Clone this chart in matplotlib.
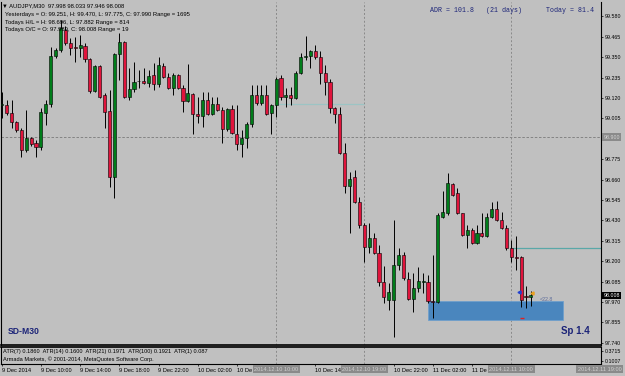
import matplotlib
matplotlib.use("Agg")
import matplotlib.pyplot as plt
import matplotlib.transforms as mtransforms
from matplotlib.patches import Rectangle

W, H = 625, 376
plt.rcParams["font.family"] = ["Liberation Sans", "DejaVu Sans"]

# AUDJPY M30, 9 Dec 06:00 .. 11 Dec 12:00
opens = [99.080, 99.080, 99.035, 98.985, 98.940, 98.827, 98.895, 98.866, 98.844, 99.035,
         99.086, 99.357, 99.390, 99.503, 99.430, 99.410, 99.402, 99.413, 99.340, 99.159,
         99.300, 99.137, 99.047, 98.675, 99.368, 99.435, 99.126, 99.171, 99.213, 99.216,
         99.204, 99.249, 99.199, 99.300, 99.238, 99.176, 99.249, 99.176, 99.103, 99.142,
         99.030, 99.018, 99.109, 99.030, 99.086, 99.052, 98.945, 99.058, 98.917, 98.861,
         98.895, 98.973, 99.137, 99.092, 99.137, 99.035, 99.080, 99.233, 99.126, 99.137,
         99.120, 99.261, 99.351, 99.357, 99.385, 99.351, 99.261, 99.210, 99.064, 99.030,
         98.810, 98.624, 98.675, 98.534, 98.404, 98.280, 98.331, 98.247, 98.083, 97.982,
         97.982, 98.179, 98.235, 98.100, 97.989, 98.049, 98.083, 98.083, 97.976, 97.970,
         98.449, 98.472, 98.635, 98.585, 98.472, 98.348, 98.376, 98.303, 98.359, 98.342,
         98.449, 98.495, 98.433, 98.387, 98.275, 98.224, 98.224, 98.004, 97.998]
highs = [99.154, 99.109, 99.109, 98.990, 98.951, 99.052, 98.900, 98.883, 99.064, 99.109,
         99.407, 99.402, 99.559, 99.526, 99.458, 99.464, 99.475, 99.430, 99.345, 99.306,
         99.306, 99.148, 99.165, 99.373, 99.486, 99.441, 99.289, 99.323, 99.278, 99.289,
         99.278, 99.317, 99.351, 99.317, 99.261, 99.261, 99.255, 99.193, 99.311, 99.148,
         99.126, 99.154, 99.154, 99.126, 99.126, 99.069, 99.064, 99.080, 99.080, 98.940,
         98.985, 99.193, 99.193, 99.193, 99.193, 99.086, 99.238, 99.249, 99.176, 99.182,
         99.272, 99.373, 99.470, 99.390, 99.418, 99.385, 99.306, 99.227, 99.069, 99.069,
         98.866, 98.703, 98.714, 98.562, 98.416, 98.416, 98.359, 98.292, 98.173, 98.078,
         98.433, 98.275, 98.252, 98.140, 98.134, 98.168, 98.134, 98.123, 98.235, 98.472,
         98.596, 98.696, 98.641, 98.613, 98.472, 98.404, 98.387, 98.404, 98.472, 98.472,
         98.534, 98.540, 98.478, 98.404, 98.320, 98.342, 98.230, 98.061, 98.033]
lows = [99.007, 99.024, 98.951, 98.928, 98.788, 98.816, 98.849, 98.788, 98.827, 98.968,
        99.069, 99.345, 99.379, 99.418, 99.362, 99.323, 99.351, 99.323, 99.148, 99.154,
        99.120, 98.951, 98.618, 98.557, 99.221, 99.120, 99.109, 99.154, 99.176, 99.199,
        99.182, 99.165, 99.182, 99.233, 99.171, 99.137, 99.171, 99.041, 99.097, 98.917,
        98.979, 98.956, 99.024, 99.024, 99.047, 98.866, 98.934, 98.917, 98.827, 98.788,
        98.838, 98.956, 99.080, 99.080, 99.024, 98.917, 99.013, 99.109, 99.069, 99.080,
        99.114, 99.255, 99.334, 99.289, 99.340, 99.199, 99.137, 99.035, 98.979, 98.804,
        98.585, 98.359, 98.528, 98.387, 98.196, 98.247, 98.241, 98.061, 97.965, 97.925,
        97.773, 98.151, 98.094, 97.982, 97.914, 98.027, 98.021, 97.965, 97.882, 97.965,
        98.444, 98.461, 98.568, 98.466, 98.342, 98.275, 98.297, 98.297, 98.337, 98.337,
        98.444, 98.427, 98.382, 98.264, 98.196, 98.151, 97.942, 97.937, 97.946]
closes = [99.086, 99.035, 98.985, 98.940, 98.827, 98.895, 98.861, 98.844, 99.041, 99.086,
          99.357, 99.390, 99.514, 99.430, 99.402, 99.404, 99.418, 99.340, 99.159, 99.300,
          99.126, 99.041, 98.675, 99.368, 99.435, 99.126, 99.171, 99.210, 99.218, 99.204,
          99.244, 99.199, 99.306, 99.238, 99.176, 99.249, 99.176, 99.103, 99.148, 99.030,
          99.018, 99.109, 99.030, 99.086, 99.052, 98.945, 99.058, 98.923, 98.861, 98.895,
          98.973, 99.137, 99.092, 99.137, 99.030, 99.080, 99.227, 99.126, 99.137, 99.120,
          99.261, 99.351, 99.357, 99.385, 99.351, 99.261, 99.210, 99.064, 99.030, 98.810,
          98.624, 98.664, 98.534, 98.404, 98.280, 98.331, 98.247, 98.083, 97.999, 98.027,
          98.179, 98.235, 98.106, 97.990, 98.049, 98.089, 98.086, 97.976, 97.970, 98.461,
          98.478, 98.641, 98.573, 98.472, 98.348, 98.376, 98.303, 98.359, 98.342, 98.449,
          98.495, 98.433, 98.387, 98.275, 98.224, 98.221, 97.982, 97.999, 98.008]

price_ticks = [97.740, 97.855, 97.970, 98.085, 98.200, 98.315, 98.430, 98.545, 98.660,
               98.775, 99.005, 99.120, 99.235, 99.350, 99.465, 99.580]
# time labels as they show on screen (partly hidden by the vertical-line date boxes)
time_bars = [0, 8, 16, 24, 32, 40, 48, 64, 80, 88, 96]
time_labels = ["9 Dec 2014", "9 Dec 10:00", "9 Dec 14:00", "9 Dec 18:00", "9 Dec 22:00",
               "10 Dec 02:00", "10 De", "10 Dec 14",
               "10 Dec 22:00", "11 Dec 02:00", "11 De"]
vline_bars = [56, 74, 104, 122]
vline_labels = ["2014.12.10 10:00", "2014.12.10 19:00", "2014.12.11 10:00", "2014.12.11 19:00"]
atr_ticks = [0.1007, 0.3715]

grid_level = 98.900
bid = 98.008
zone_lo, zone_hi = 97.869, 97.976
zone_from, zone_to = 87.0, 114.5
level1, level1_from, level1_to = 99.086, 56, 74
level2, level2_from = 98.275, 104

BG = "#c0c0c0"
BULL = "#007d1a"
BEAR = "#e0143c"
NAVY = "#1c2478"


def fx(x):
    return x / W


def fy(y):
    return 1 - y / H


fig = plt.figure(figsize=(W / 100, H / 100), dpi=100, facecolor=BG)

x_lo = (1.5 - 1.7) / 4.9
x_hi = (601 - 1.7) / 4.9

ax = fig.add_axes([fx(1.5), fy(345), fx(601) - fx(1.5), fy(2) - fy(345)], facecolor=BG)
sub = fig.add_axes([fx(1.5), fy(364), fx(601) - fx(1.5), fy(347) - fy(364)], facecolor=BG)

# candles
for i in range(len(opens)):
    o, h, l, c = opens[i], highs[i], lows[i], closes[i]
    ax.vlines(i, l, h, color="black", lw=0.7, zorder=3)
    col = BULL if c >= o else BEAR
    body = c - o
    if abs(body) < 0.001:
        body = 0.0008
    ax.bar(i, body, bottom=o, width=0.62, color=col, edgecolor="black", lw=0.4, zorder=4)

# grid-like dashed lines
ax.axhline(grid_level, color="#7a7a7a", lw=0.6, ls=(0, (3, 2)), zorder=1)
for b in vline_bars[:3]:
    ax.axvline(b, color="#8a8a8a", lw=0.7, ls=(0, (2, 2)), zorder=1)
    sub.axvline(b, color="#8a8a8a", lw=0.7, ls=(0, (2, 2)), zorder=1)

# levels and zone
ax.hlines(level1, level1_from, level1_to, color="#9cc4c4", lw=0.9, zorder=2)
ax.hlines(level2, level2_from, x_hi, color="#5aa8a8", lw=0.9, zorder=2)
ax.add_patch(Rectangle((zone_from, zone_lo), zone_to - zone_from, zone_hi - zone_lo,
                       facecolor="#4a86be", edgecolor="#6f9fcc", lw=0.6, zorder=2))
ax.plot([105.6], [98.027], marker="<", ms=2.2, color="#2040d0", zorder=6)
ax.plot([108.3], [98.021], marker="<", ms=2.2, color="#e8a020", zorder=6)
ax.hlines(97.880, 105.8, 106.6, color="#e02020", lw=1.0, zorder=6)
ax.text(109.8, 97.982, "<22.8", fontsize=3.8, color="#5a6a9a", va="center", ha="left", zorder=6)

ax.set_xlim(x_lo, x_hi)
ax.set_ylim(97.728, 99.661)
ax.set_xticks([])
ax.yaxis.tick_right()
ax.set_yticks(price_ticks)
ax.set_yticklabels(["%.3f" % p for p in price_ticks])
ax.tick_params(axis="y", length=1.6, width=0.5, pad=1.2, labelsize=3.8, colors="black")
ax.spines["top"].set_visible(False)
for s in ["left", "right", "bottom"]:
    ax.spines[s].set_color("black")
    ax.spines[s].set_linewidth(0.8)
ax.spines["bottom"].set_linewidth(1.2)

# price boxes on the axis
tr = mtransforms.blended_transform_factory(ax.transAxes, ax.transData)
ax.text(1.004, grid_level, "98.900", transform=tr, fontsize=3.8, color="#d4d4d4", va="center",
        ha="left", bbox=dict(boxstyle="square,pad=0.2", fc="#8a8a8a", ec="none"), zorder=7, clip_on=False)
ax.text(1.004, bid, "98.008", transform=tr, fontsize=3.8, color="white", va="center",
        ha="left", bbox=dict(boxstyle="square,pad=0.2", fc="black", ec="none"), zorder=7, clip_on=False)

# ATR sub window
sub.set_xlim(x_lo, x_hi)
sub.set_ylim(0.0194, 0.4798)
sub.yaxis.tick_right()
sub.set_yticks(atr_ticks)
sub.set_yticklabels(["%.4f" % v for v in atr_ticks])
sub.tick_params(axis="y", length=1.6, width=0.5, pad=1.2, labelsize=3.8, colors="black")
sub.set_xticks(time_bars)
sub.set_xticklabels(time_labels)
sub.tick_params(axis="x", length=1.6, width=0.5, pad=1.5, labelsize=4.1, colors="black")
for lab in sub.get_xticklabels():
    lab.set_horizontalalignment("left")
for s in ["left", "right", "bottom", "top"]:
    sub.spines[s].set_color("black")
    sub.spines[s].set_linewidth(0.8)
sub.spines["top"].set_linewidth(1.2)

trx = mtransforms.blended_transform_factory(sub.transData, sub.transAxes)
for b, lab in zip(vline_bars, vline_labels):
    sub.text(b, -0.30, lab, transform=trx, fontsize=4.1, color="#d0d0d0", ha="center", va="center",
             bbox=dict(boxstyle="square,pad=0.25", fc="#8a8a8a", ec="none"), zorder=8, clip_on=False)

fig.text(fx(3), fy(351.5), "ATR(7) 0.1860  ATR(14) 0.1600  ATR(21) 0.1971  ATR(100) 0.1921  ATR(1) 0.087",
         fontsize=4.1, va="center", ha="left")
fig.text(fx(3), fy(359), "Armada Markets, \u00a9 2001-2014, MetaQuotes Software Corp.",
         fontsize=4.1, va="center", ha="left")

# header
fig.text(fx(2.5), fy(6), "\u25bc AUDJPY,M30  97.998 98.033 97.946 98.008", fontsize=4.2, va="center", ha="left")
fig.text(fx(5), fy(14.5), "Yesterdays = O: 99.251, H: 99.470, L: 97.775, C: 97.990 Range = 1695",
         fontsize=4.2, va="center", ha="left")
fig.text(fx(5), fy(22.3), "Todays H/L = H: 98.696, L: 97.882 Range = 814", fontsize=4.2, va="center", ha="left")
fig.text(fx(5), fy(29.8), "Todays O/C = O: 97.989, C: 98.008 Range = 19", fontsize=4.2, va="center", ha="left")

fig.text(fx(430), fy(10), "ADR = 101.8   (21 days)", fontsize=4.8, family="Liberation Mono",
         color=NAVY, va="center", ha="left")
fig.text(fx(546), fy(10), "Today = 81.4", fontsize=4.8, family="Liberation Mono",
         color=NAVY, va="center", ha="left")

fig.text(fx(8), fy(331), "SD-M30", fontsize=6.2, weight="bold", color=NAVY, va="center", ha="left")
fig.text(fx(561), fy(331), "Sp 1.4", fontsize=7, weight="bold", color=NAVY, va="center", ha="left")

fig.savefig("out.png", dpi=100, facecolor=BG)
